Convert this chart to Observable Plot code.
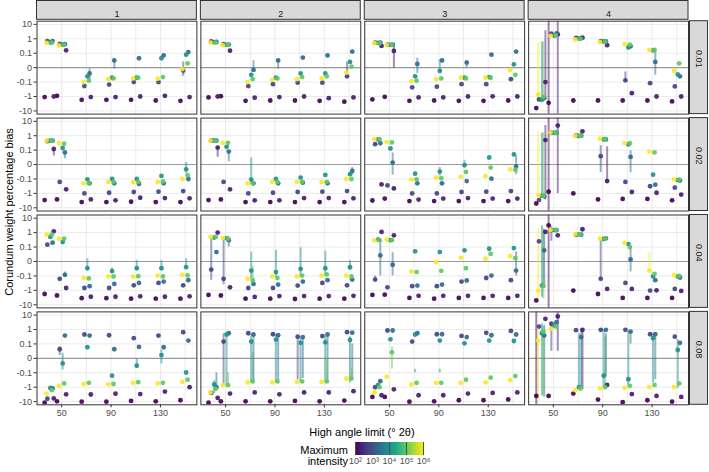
<!DOCTYPE html>
<html><head><meta charset="utf-8">
<script src="https://cdn.jsdelivr.net/npm/d3@7"></script>
<script src="https://cdn.jsdelivr.net/npm/@observablehq/plot@0.6"></script>
<style>
body{margin:0;background:#fff;font-family:"Liberation Sans",Arial,sans-serif;}
#wrap{position:relative;width:709px;height:472px;overflow:hidden;background:#fff;}
#chart{position:absolute;left:0;top:0;}
.lbl{position:absolute;font-size:11px;color:#000;white-space:nowrap;line-height:11px;}
#ytitle{left:8.5px;top:212px;transform:translate(-50%,-50%) rotate(-90deg);}
#xtitle{left:362px;top:432px;transform:translate(-50%,-50%);}
#legtitle{right:361px;top:445px;text-align:right;}
#legend{position:absolute;left:349px;top:441.5px;}
</style></head>
<body><div id="wrap">
<div id="chart"></div>
<div class="lbl" id="ytitle">Corundum weight percentage bias</div>
<div class="lbl" id="xtitle">High angle limit (° 2θ)</div>
<div class="lbl" id="legtitle">Maximum<br>intensity</div>
<div id="legend"></div>
</div>
<script>
// ---------- categories & ticks ----------
const columnLabels = ["1", "2", "3", "4"];
const rowLabels = ["0.01", "0.02", "0.04", "0.08"];
const angles = [40, 50, 70, 90, 110, 130, 150];
const logIntensity = [2, 2.3, 2.8, 3.4, 4, 5, 6];
const jitter = [-3.8, 3.6, -1.6, 2.6, 0.8, 2.0, -2.2];
const xTicks = [50, 90, 130];
const xGrid = [50, 70, 90, 110, 130, 150];
const yTickValues = [-10, -1, -0.1, 0, 0.1, 1, 10];
const yTickLabels = ["-10", "-1", "-0.1", "0", "0.1", "1", "10"];
const legendTicks = [2, 3, 4, 5, 6];
const legendTickLabels = ["10²", "10³", "10⁴", "10⁵", "10⁶"];

// ---------- bias values: one row per angle, one column per intensity level ----------
const bias_1_001 = [
 [-1.1, -1.0, 0.7, 0.7, 0.56, 0.52, 0.52],
 [-0.9, 0.16, 0.45, 0.42, 0.4, 0.38, 0.35],
 [-1.7, -1.1, -0.19, -0.04, -0.06, -0.09, -0.1],
 [-1.7, -1.1, -0.15, 0.05, -0.07, -0.075, -0.08],
 [-1.7, -1.0, -0.1, 0.065, -0.07, -0.07, -0.075],
 [-1.9, -0.9, -0.1, 0.085, 0.065, -0.065, -0.077],
 [-2.0, -1.1, -0.02, 0.12, 0.09, 0.03, -0.01]];
const bias_2_001 = [
 [-1.15, -1.0, 0.65, 0.6, 0.58, 0.55, 0.55],
 [-0.95, 0.15, 0.42, 0.4, 0.38, 0.38, 0.36],
 [-2.0, -1.2, -0.19, -0.016, -0.05, -0.08, -0.1],
 [-1.9, -1.1, -0.14, 0.05, -0.07, -0.075, -0.085],
 [-1.9, -1.0, -0.11, 0.07, -0.04, -0.065, -0.08],
 [-2.0, -1.3, -0.11, 0.085, -0.04, -0.06, -0.075],
 [-2.3, -1.15, -0.06, 0.13, 0.04, 0.007, -0.035]];
const bias_3_001 = [
 [-1.6, 0.32, 0.55, 0.55, 0.52, 0.5, 0.5],
 [-1.05, 0.145, 0.4, 0.4, 0.38, 0.38, 0.38],
 [-2.0, -1.15, -0.23, 0.026, -0.06, -0.09, -0.095],
 [-1.9, -1.15, -0.21, 0.05, -0.023, -0.075, -0.08],
 [-2.0, -1.0, -0.14, 0.035, -0.07, -0.075, -0.07],
 [-2.0, -0.98, -0.14, 0.09, -0.065, -0.07, -0.07],
 [-1.9, -1.0, -0.08, 0.13, 0.023, -0.05, -0.016]];
const bias_4_001 = [
 [-6.3, -0.1, -1.6, -1.3, -1.7, -1.05, -0.72],
 [-2.75, 2.0, 2.3, 2.4, 1.6, 1.7, 1.6],
 [-1.9, 1.2, 1.15, 1.1, 1.05, 1.0, 0.9],
 [-1.9, 0.36, 0.7, 0.65, 0.65, 0.62, 0.6],
 [-1.9, -0.59, -0.088, 0.3, 0.25, 0.4, 0.43],
 [-1.9, -1.0, -0.12, 0.04, 0.16, 0.17, 0.17],
 [-2.2, -1.0, -0.2, -0.06, -0.047, 0.03, -0.023]];
const bias_1_002 = [
 [-2.9, 0.12, 0.42, 0.45, 0.45, 0.45, 0.45],
 [-2.6, -0.52, -0.16, 0.084, 0.14, 0.28, 0.3],
 [-4.0, -2.6, -1.0, -0.2, -0.105, -0.2, -0.2],
 [-4.0, -3.0, -0.9, -0.2, -0.1, -0.16, -0.16],
 [-3.8, -2.0, -0.8, -0.22, -0.1, -0.16, -0.17],
 [-4.0, -2.1, -0.76, -0.2, -0.079, -0.15, -0.16],
 [-4.0, -2.2, -0.69, -0.1, -0.033, -0.074, -0.1]];
const bias_2_002 = [
 [-2.9, 0.15, 0.45, 0.45, 0.47, 0.44, 0.45],
 [-2.6, -0.52, -0.16, 0.09, 0.17, 0.32, 0.32],
 [-4.0, -3.0, -1.0, -0.2, -0.11, -0.2, -0.2],
 [-4.0, -3.0, -0.9, -0.2, -0.1, -0.16, -0.16],
 [-4.0, -2.1, -0.8, -0.18, -0.09, -0.16, -0.16],
 [-4.0, -2.1, -0.76, -0.2, -0.072, -0.16, -0.16],
 [-4.0, -2.2, -0.69, -0.044, -0.067, -0.1, -0.1]];
const bias_3_002 = [
 [-3.1, -0.24, 0.26, 0.3, 0.55, 0.58, 0.58],
 [-2.3, -0.45, -0.28, 0.014, 0.13, 0.34, 0.36],
 [-3.4, -2.7, -1.0, -0.2, -0.063, -0.105, -0.11],
 [-3.4, -2.3, -1.0, -0.2, -0.049, -0.095, -0.09],
 [-3.4, -2.1, -0.8, -0.14, -0.005, -0.051, -0.084],
 [-3.4, -2.3, -0.76, -0.098, 0.049, -0.021, -0.08],
 [-3.4, -2.3, -0.69, -0.014, 0.07, -0.036, -0.033]];
const bias_4_002 = [
 [-5.0, 0.5, -2.9, -1.6, -1.5, -1.4, -1.35],
 [-0.76, 5.0, 1.6, 1.6, 1.55, 1.6, 1.65],
 [-1.0, 2.0, 1.05, 1.0, 0.95, 1.0, 1.0],
 [-2.6, -0.14, 0.058, 0.55, 0.55, 0.6, 0.6],
 [-2.4, -0.8, -0.16, 0.053, 0.25, 0.3, 0.31],
 [-2.4, -0.9, -0.32, -0.25, -0.07, 0.084, 0.09],
 [-3.0, -1.2, -0.4, -0.13, -0.12, -0.11, -0.105]];
const bias_1_004 = [
 [-1.8, 1.23, 0.145, 0.2, 0.5, 0.72, 0.72],
 [-2.3, -0.69, -0.16, -0.093, 0.22, 0.38, 0.38],
 [-3.5, -2.8, -0.69, -0.52, -0.047, -0.15, -0.14],
 [-3.5, -2.8, -0.69, -0.36, -0.067, -0.11, -0.11],
 [-3.8, -2.6, -0.45, -0.31, -0.047, -0.105, -0.114],
 [-3.8, -2.8, -0.31, -0.25, -0.047, -0.11, -0.098],
 [-3.8, -2.6, -0.45, -0.2, -0.04, -0.097, -0.093]];
const bias_2_004 = [
 [-2.1, 1.0, -0.056, 0.065, 0.45, 0.5, 0.5],
 [-2.3, -0.62, -0.16, 0.3, 0.4, 0.38, 0.42],
 [-3.8, -2.9, -0.69, -0.36, -0.063, -0.2, -0.16],
 [-3.8, -2.5, -0.69, -0.4, -0.074, -0.14, -0.11],
 [-4.0, -2.5, -0.47, -0.25, -0.051, -0.098, -0.11],
 [-3.8, -2.5, -0.31, -0.2, -0.047, -0.09, -0.098],
 [-3.8, -2.4, -0.45, -0.18, -0.04, -0.11, -0.098]];
const bias_3_004 = [
 [-2.1, 1.12, -0.18, 0.042, 0.33, 0.3, 0.29],
 [-2.0, 0.65, -0.62, -0.023, 0.3, 0.3, 0.33],
 [-3.4, -2.4, -0.52, -0.47, 0.07, -0.074, -0.07],
 [-3.8, -2.4, -0.52, -0.4, 0.065, -0.065, -0.005],
 [-3.4, -2.4, -0.25, -0.21, 0.077, -0.047, 0.026],
 [-3.4, -2.4, -0.14, -0.098, 0.088, 0.053, 0.019],
 [-3.4, -2.4, -0.2, -0.063, 0.093, 0.023, 0.037]];
const bias_4_004 = [
 [-5.0, 1.12, 0.25, 0.077, -0.47, -0.5, -1.05],
 [3.2, 0.65, 1.45, 1.5, 1.5, 1.55, 1.5],
 [-1.05, 1.7, 0.7, 0.72, 0.76, 0.76, 0.76],
 [-1.8, -0.8, -0.16, 0.4, 0.36, 0.38, 0.38],
 [-3.4, -0.8, -0.31, 0.014, 0.16, 0.1, 0.19],
 [-3.4, -1.0, -1.05, -0.2, -0.11, -0.086, -0.063],
 [-3.4, -1.1, -0.8, -0.13, -0.11, -0.1, -0.095]];
const bias_1_008 = [
 [-12, -6.0, -6.3, -1.2, -1.12, -1.6, -2.75],
 [-9.5, -3.1, 0.063, 0.38, -0.035, -0.55, -0.8],
 [-10, -3.2, 0.45, 0.38, 0.077, -0.5, -0.6],
 [-10, -2.8, 0.4, 0.063, -0.16, -0.6, -0.63],
 [-9, -3.0, 0.25, 0.079, -0.051, -0.45, -0.5],
 [-9.5, -2.0, 0.38, 0.077, 0.023, -0.5, -0.55],
 [-8.0, -1.0, 0.65, 0.17, -0.098, -0.3, -0.43]];
const bias_2_008 = [
 [-12, -5.5, -2.5, -1.0, -0.65, -1.3, -2.3],
 [-9.5, -2.75, 0.145, 0.55, 0.45, -0.72, -0.72],
 [-9.5, -2.3, 0.55, 0.45, 0.145, -0.4, -0.47],
 [-9.5, -3.1, 0.47, 0.4, 0.2, -0.4, -0.47],
 [-9, -2.3, 0.32, 0.3, 0.12, -0.4, -0.43],
 [-9.5, -2.3, 0.35, 0.45, 0.13, -0.4, -0.43],
 [-8.5, -1.9, 0.65, 0.6, 0.19, -0.25, -0.25]];
const bias_3_008 = [
 [-4.7, -3.6, -1.0, -0.38, -0.72, -1.0, -2.3],
 [-4.7, -1.4, 0.85, 0.85, 0.21, 0.042, -0.19],
 [-10, -3.6, 0.145, 0.55, 0.45, -0.5, -0.65],
 [-9.5, -3.6, 0.47, 0.47, 0.17, -0.5, -0.5],
 [-8, -2.75, 0.36, 0.3, 0.11, -0.3, -0.5],
 [-8, -2.5, 0.59, 0.4, 0.17, -0.22, -0.47],
 [-7, -2.3, 0.8, 0.45, 0.16, -0.17, -0.32]];
const bias_4_008 = [
 [-4.0, 5.5, 1.6, 0.38, 0.55, 0.72, 0.17],
 [-4.0, 8.0, 2.5, 3.2, 1.9, 1.6, 1.1],
 [-2.75, 0.95, 0.9, 0.3, -1.0, -1.23, -1.6],
 [-7.2, -0.7, 0.95, 0.95, -0.16, -1.0, -1.23],
 [-11, -3.0, 0.95, 0.72, -0.28, -0.8, -1.1],
 [-8, -4.0, 0.47, 0.47, 0.25, -0.7, -1.0],
 [-10, -4.7, 0.32, 0.12, 0.058, -0.55, -1.0]];

// ---------- uncertainty ranges: [angle index, intensity index, low, high] ----------
const bars_1_001 = [[2,3,-0.1,-0.01],[3,3,-0.01,0.06],[6,2,-0.06,0.04]];
const bars_2_001 = [[2,3,-0.028,0.047],[3,3,-0.01,0.05],[6,2,-0.07,0.04]];
const bars_3_001 = [[1,1,-0.005,0.5],[2,3,-0.04,0.065],[3,4,-0.04,0.055],[4,3,0.0,0.05]];
const bars_4_001 = [[0,1,-1.6,3.6],[0,4,-1.8,0.6],[0,5,-1.6,0.63],[0,6,-1.5,0.55],[1,0,-1000,1000],[1,1,-1000,1000],[4,2,-0.1,-0.03],[5,3,-0.053,0.16]];
const bars_1_002 = [[0,1,0.06,0.12],[1,3,0.04,0.084],[6,4,-0.06,0.014]];
const bars_2_002 = [[0,1,0.05,0.15],[1,3,0.02,0.09],[2,4,-0.2,0.045],[6,3,-0.07,-0.02]];
const bars_3_002 = [[1,3,-0.072,0.08],[3,4,-0.08,-0.02],[4,4,-0.005,0.03],[6,3,-0.07,0.06]];
const bars_4_002 = [[0,1,-2.9,5.0],[0,4,-1.6,1.5],[0,5,-1.6,1.58],[0,6,-1.3,1.6],[1,0,-1000,1000],[1,1,-1.0,1000],[3,2,-0.055,0.2],[3,1,-0.2,0.17],[4,3,-0.056,0.095]];
const bars_1_004 = [[1,3,-0.11,-0.074],[2,4,-0.063,0.019],[3,4,-0.081,-0.047],[4,4,-0.063,0.007],[5,4,-0.063,0.007],[6,4,-0.051,0.019]];
const bars_2_004 = [[0,2,-0.2,0.38],[1,2,-0.42,0.4],[1,3,0.1,0.36],[2,4,-0.16,0.065],[2,5,-0.15,-0.033],[3,4,-0.12,0.077],[4,4,-0.12,0.095],[5,4,-0.098,0.072],[6,4,-0.063,0.007]];
const bars_3_004 = [[0,3,-0.1,0.32],[0,2,-0.2,-0.1],[1,3,-0.1,0.06],[6,3,-0.1,0.065]];
const bars_4_004 = [[0,6,-4.0,1.9],[0,5,-4.0,2.0],[0,4,-3.0,3.0],[0,3,-0.7,1.5],[1,0,-1000,1000],[1,2,0.25,2.5],[3,2,-0.2,0.3],[4,3,-0.074,0.1],[5,6,-0.07,0.06]];
const bars_1_008 = [[1,2,0.02,0.08],[1,4,-0.08,0.035],[4,4,-0.07,-0.005],[5,4,-0.04,0.058]];
const bars_2_008 = [[0,4,-2.8,-0.35],[0,3,-0.8,-0.1],[1,2,-0.6,0.5],[1,4,-0.9,0.4],[1,5,-0.6,-0.1],[2,4,-0.47,0.42],[2,5,-0.5,0.04],[2,3,-0.35,0.5],[3,4,-0.5,0.45],[3,3,-0.35,0.4],[4,4,-0.45,0.32],[4,3,-0.25,0.3],[4,2,-0.3,0.3],[5,4,-0.45,0.35],[5,3,-0.4,0.35],[5,5,-0.4,0.0],[6,4,-0.5,0.3],[6,3,-0.2,0.1],[6,5,-0.3,-0.07]];
const bars_3_008 = [[1,5,-0.074,0.08],[2,4,-0.1,-0.075],[3,4,-0.1,-0.075]];
const bars_4_008 = [[0,0,-1000,1000],[0,3,-5,2],[0,4,-4,2.5],[0,5,-3.5,1.5],[0,6,-12,1.0],[1,1,0.05,1000],[1,2,0.05,3],[2,1,-1.5,1.0],[2,3,-1.2,0.9],[2,4,-1.3,0.5],[3,4,-1.0,0.9],[3,5,-1.0,0.3],[3,3,-0.2,0.5],[4,4,-0.8,0.8],[4,3,0.1,0.8],[5,4,-0.5,0.5],[5,3,-0.3,0.5],[6,4,-1.2,0.2]];

// ---------- assemble ----------
const panels = [
 ["1","0.01",bias_1_001,bars_1_001],["2","0.01",bias_2_001,bars_2_001],["3","0.01",bias_3_001,bars_3_001],["4","0.01",bias_4_001,bars_4_001],
 ["1","0.02",bias_1_002,bars_1_002],["2","0.02",bias_2_002,bars_2_002],["3","0.02",bias_3_002,bars_3_002],["4","0.02",bias_4_002,bars_4_002],
 ["1","0.04",bias_1_004,bars_1_004],["2","0.04",bias_2_004,bars_2_004],["3","0.04",bias_3_004,bars_3_004],["4","0.04",bias_4_004,bars_4_004],
 ["1","0.08",bias_1_008,bars_1_008],["2","0.08",bias_2_008,bars_2_008],["3","0.08",bias_3_008,bars_3_008],["4","0.08",bias_4_008,bars_4_008]
];
// pseudo-log axis: linear within ±0.1, one decade per step beyond
const tr = v => Math.abs(v) <= 0.1 ? v * 10 : Math.sign(v) * (Math.log10(Math.abs(v)) + 2);
const points = [], bars = [];
for (const [col, row, b, e] of panels) {
  b.forEach((vals, i) => vals.forEach((v, j) => points.push({col, row, jx: angles[i] + jitter[j], level: logIntensity[j], bias: v})));
  e.forEach(([i, j, lo, hi]) => bars.push({col, row, jx: angles[i] + jitter[j], level: logIntensity[j], lo, hi}));
}
points.sort((a, b) => a.level - b.level);
const yTicksT = yTickValues.map(tr);

// layout
const W = 709, H = 425, mT = 20.7, mB = 20.7, mL = 36.5, mR = 21, gap = 4;
const fxInner = gap / ((W - mL - mR + gap) / 4);
const fyInner = gap / ((H - mT - mB + gap) / 4);
const panelW = (W - mL - mR - 3 * gap) / 4;
const panelH = (H - mT - mB - 3 * gap) / 4;
const topStrips = columnLabels.map(c => ({col: c, row: rowLabels[0]}));
const rightStrips = rowLabels.map(r => ({col: columnLabels[3], row: r}));

const chart = Plot.plot({
  width: W, height: H,
  marginTop: mT, marginBottom: mB, marginLeft: mL, marginRight: mR,
  style: {fontFamily: "'Liberation Sans', Arial, sans-serif", fontSize: "9px", color: "#4d4d4d", background: "#fff"},
  fx: {domain: columnLabels, paddingInner: fxInner, paddingOuter: 0, round: false, axis: null},
  fy: {domain: rowLabels, paddingInner: fyInner, paddingOuter: 0, round: false, axis: null},
  x: {domain: [30, 159.5], axis: null},
  y: {domain: [-3.22, 3.22], axis: null},
  color: {type: "linear", scheme: "viridis", domain: [2, 6]},
  marks: [
    Plot.gridX({ticks: xGrid, stroke: "#ebebeb", strokeOpacity: 1, strokeWidth: 1}),
    Plot.gridY({ticks: yTicksT, stroke: "#ebebeb", strokeOpacity: 1, strokeWidth: 1}),
    Plot.ruleY([0], {stroke: "#9a9a9a", strokeWidth: 1.1}),
    Plot.ruleX(bars, {fx: "col", fy: "row", x: "jx", y1: d => tr(d.lo), y2: d => tr(d.hi), stroke: "level", strokeOpacity: 0.5, strokeWidth: 2, clip: true}),
    Plot.dot(points, {fx: "col", fy: "row", x: "jx", y: d => tr(d.bias), fill: "level", r: 2.4, fillOpacity: 0.92, clip: true}),
    Plot.frame({stroke: "#333333", strokeWidth: 1}),
    Plot.rect(topStrips, {fx: "col", fy: "row", insetTop: -(mT - 0.5), insetBottom: panelH + 1.4, fill: "#d9d9d9", stroke: "#333333", strokeWidth: 1}),
    Plot.text(topStrips, {fx: "col", fy: "row", text: "col", frameAnchor: "top", dy: -10.2, fill: "#1a1a1a", fontSize: 9}),
    Plot.rect(rightStrips, {fx: "col", fy: "row", insetLeft: panelW + 1.5, insetRight: -(mR - 1.5), fill: "#d9d9d9", stroke: "#333333", strokeWidth: 1}),
    Plot.text(rightStrips, {fx: "col", fy: "row", text: "row", frameAnchor: "right", dx: 10.3, rotate: 90, fill: "#1a1a1a", fontSize: 9}),
    Plot.axisY({ticks: yTicksT, tickFormat: d => yTickLabels[yTicksT.indexOf(d)], tickSize: 3, tickPadding: 2, label: null, stroke: "#333333", fill: "#4d4d4d", fontSize: 9}),
    Plot.axisX({ticks: xTicks, tickSize: 3, tickPadding: 2, label: null, stroke: "#333333", fill: "#4d4d4d", fontSize: 9})
  ]
});
document.getElementById("chart").appendChild(chart);

const legend = Plot.legend({
  color: {type: "linear", scheme: "viridis", domain: [2, 6]},
  width: 80, height: 27, marginTop: 0, marginBottom: 14, marginLeft: 6, marginRight: 6,
  ticks: legendTicks, tickFormat: d => legendTickLabels[legendTicks.indexOf(d)], tickSize: 0, label: null,
  style: {fontFamily: "'Liberation Sans', Arial, sans-serif", fontSize: "9px", color: "#4d4d4d", background: "transparent"}
});
document.getElementById("legend").appendChild(legend);
</script>
</body></html>
